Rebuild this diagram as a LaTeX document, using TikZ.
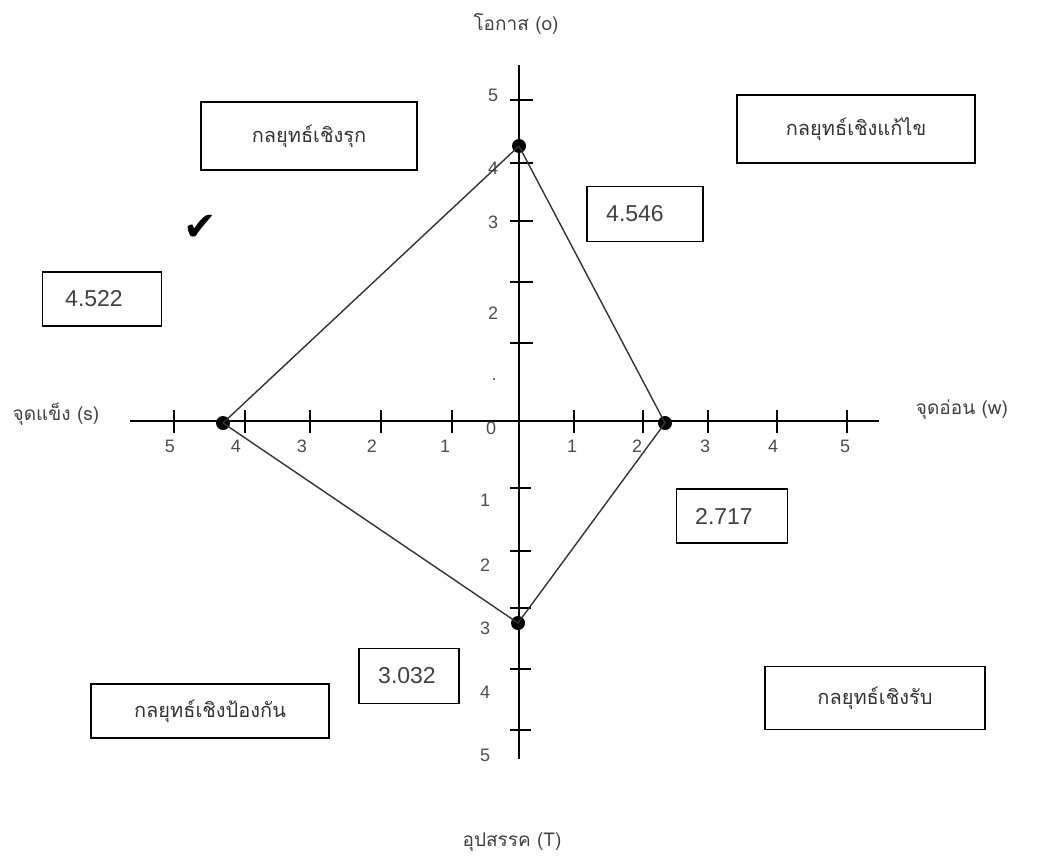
\documentclass[tikz,border=0pt]{standalone}
\usepackage{fontspec}
\setmainfont{Liberation Sans}
\newfontfamily\thaifont[Script=Thai]{Loma}
\newfontfamily\symfont{DejaVu Sans}
\usetikzlibrary{calc}

\begin{document}
\begin{tikzpicture}[x=1pt,y=-1pt,
   box/.style={rectangle,draw,line width=1.3pt,inner sep=0pt},
   numbox/.style={box,text=black!75,font=\fontsize{23}{26}\selectfont},
   thaibox/.style={box,text=black!80,font=\thaifont\fontsize{20}{24}\selectfont},
   axislabel/.style={text=black!75,font=\thaifont\fontsize{19}{22}\selectfont},
   ticklabel/.style={text=black!70,font=\fontsize{18}{21}\selectfont},
   dot/.style={circle,fill=black,inner sep=0pt,minimum size=14pt},
   axis/.style={line width=1.5pt},
   edge/.style={line width=1.4pt,black!80}
    ]
    \useasboundingbox (0,0) rectangle (1041,859);

    % Axes:
    \coordinate (xl) at (130,421);
    \coordinate (xr) at (879,421);
    \coordinate (yt) at (519,65);
    \coordinate (yb) at (519,759);
    \draw[axis] (xl) -- (xr);
    \draw[axis] (yt) -- (yb);

    % ticks on the x axis
    \draw[axis] (174,410) -- (174,433);
    \draw[axis] (245,410) -- (245,433);
    \draw[axis] (310,410) -- (310,433);
    \draw[axis] (381,410) -- (381,433);
    \draw[axis] (452,410) -- (452,433);
    \draw[axis] (574,410) -- (574,433);
    \draw[axis] (643,410) -- (643,433);
    \draw[axis] (708,410) -- (708,433);
    \draw[axis] (777,410) -- (777,433);
    \draw[axis] (847,410) -- (847,433);

    % ticks on the y axis
    \draw[axis] (510,100) -- (533,100);
    \draw[axis] (510,163) -- (533,163);
    \draw[axis] (510,221) -- (533,221);
    \draw[axis] (510,282) -- (533,282);
    \draw[axis] (510,343) -- (533,343);
    \draw[axis] (510,488) -- (531,488);
    \draw[axis] (510,551) -- (531,551);
    \draw[axis] (510,608) -- (531,608);
    \draw[axis] (510,669) -- (531,669);
    \draw[axis] (510,730) -- (531,730);

    % Tick labels:
    \node[ticklabel] at (170,446) (sx5) {5};
    \node[ticklabel] at (236,446) (sx4) {4};
    \node[ticklabel] at (302,446) (sx3) {3};
    \node[ticklabel] at (372,446) (sx2) {2};
    \node[ticklabel] at (445,446) (sx1) {1};
    \node[ticklabel] at (491,428) (zero) {0};
    \node[ticklabel] at (572,446) (wx1) {1};
    \node[ticklabel] at (637,446) (wx2) {2};
    \node[ticklabel] at (705,446) (wx3) {3};
    \node[ticklabel] at (773,446) (wx4) {4};
    \node[ticklabel] at (845,446) (wx5) {5};

    \node[ticklabel] at (493,95) (oy5) {5};
    \node[ticklabel] at (493,168) (oy4) {4};
    \node[ticklabel] at (493,222) (oy3) {3};
    \node[ticklabel] at (493,313) (oy2) {2};
    \node[ticklabel] at (494,380) (oy1) {.};
    \node[ticklabel] at (485,500) (ty1) {1};
    \node[ticklabel] at (485,565) (ty2) {2};
    \node[ticklabel] at (485,628) (ty3) {3};
    \node[ticklabel] at (485,692) (ty4) {4};
    \node[ticklabel] at (485,755) (ty5) {5};

    % Axis names:
    \node[axislabel] at (516,24) (opp) {โอกาส (o)};
    \node[axislabel] at (56,414) (str) {จุดแข็ง (s)};
    \node[axislabel] at (962,410) (weak) {จุดอ่อน (w)};
    \node[axislabel] at (512,842) (thr) {อุปสรรค (T)};

    % Strategy boxes:
    \node[thaibox,minimum width=216pt,minimum height=68pt] at (309,136) (sorg) {กลยุทธ์เชิงรุก};
    \node[thaibox,minimum width=238pt,minimum height=68pt] at (856,129) (wosg) {กลยุทธ์เชิงแก้ไข};
    \node[thaibox,minimum width=238pt,minimum height=54pt] at (210,711) (stsg) {กลยุทธ์เชิงป้องกัน};
    \node[thaibox,minimum width=220pt,minimum height=63pt] at (875,698) (wtsg) {กลยุทธ์เชิงรับ};

    % Score boxes:
    \node[numbox,minimum width=119pt,minimum height=54pt] at (102,299) (sval) {\hspace*{-16pt}4.522};
    \node[numbox,minimum width=116pt,minimum height=55pt] at (645,214) (oval) {\hspace*{-20pt}4.546};
    \node[numbox,minimum width=111pt,minimum height=54pt] at (732,516) (wval) {\hspace*{-16pt}2.717};
    \node[numbox,minimum width=100pt,minimum height=55pt] at (409,676) (tval) {\hspace*{-4pt}3.032};

    % check mark
    \node[font=\symfont\fontsize{40}{40}\selectfont] at (200,228) (tick) {✔};

    % Points:
    \node[dot] at (519,146) (po) {};
    \node[dot] at (665,423) (pw) {};
    \node[dot] at (518,623) (pt) {};
    \node[dot] at (223,423) (ps) {};

    % lines
    \draw[edge] (po.center) -- (pw.center) -- (pt.center) -- (ps.center) -- (po.center);

\end{tikzpicture}
\end{document}
